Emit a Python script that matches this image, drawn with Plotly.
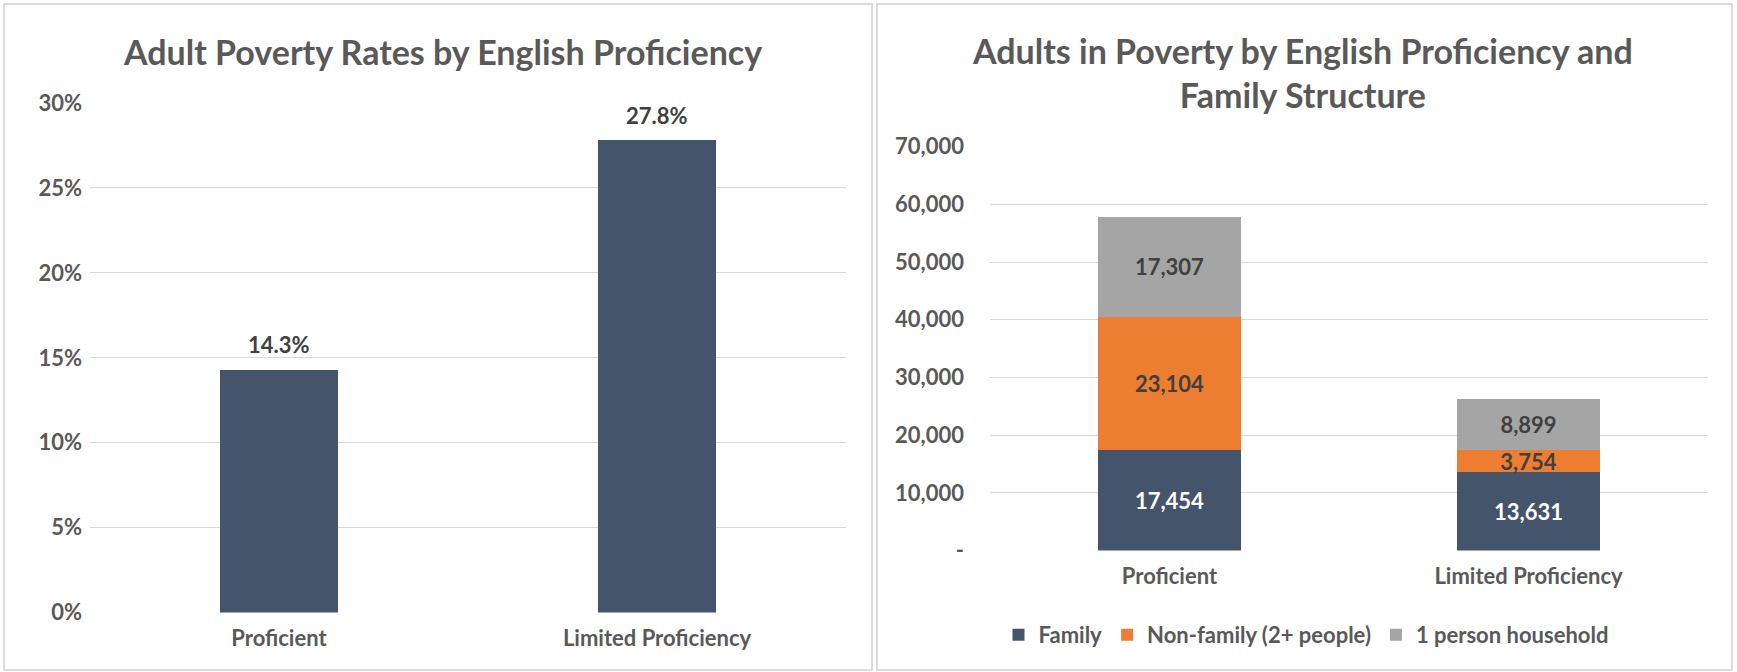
import plotly.graph_objects as go

# ---- data ----
categories = ["Proficient", "Limited Proficiency"]
poverty_rate = [0.143, 0.278]
family = [17454, 13631]
nonfamily = [23104, 3754]
one_person = [17307, 8899]
series_names = ["Family", "Non-family (2+ people)", "1 person household"]
left_ticks = [0, 0.05, 0.10, 0.15, 0.20, 0.25, 0.30]
right_ticks = [0, 10000, 20000, 30000, 40000, 50000, 60000, 70000]
right_ticktext = ["-", "10,000", "20,000", "30,000", "40,000", "50,000", "60,000", "70,000"]
left_title = "Adult Poverty Rates by English Proficiency"
right_title = "Adults in Poverty by English Proficiency and<br>Family Structure"

W, H = 1737, 672
FONT = "Lato"
GREY_TXT = "#595959"
DARK_TXT = "#404040"
NAVY = "#44546A"
ORANGE = "#ED7D31"
GREY = "#A5A5A5"
GRID = "#D9D9D9"
BORDER = "#DCDCDC"
FS = 22


def px(x):
    return x / W


def py(y):
    return 1 - y / H


fig = go.Figure()

# left chart
fig.add_trace(go.Bar(
    x=categories, y=poverty_rate, marker_color=NAVY, width=0.31,
    xaxis="x", yaxis="y", showlegend=False, hoverinfo="x+y",
))

# right chart (stacked)
for name, vals, col, tcol in zip(series_names, [family, nonfamily, one_person],
                                 [NAVY, ORANGE, GREY], ["white", DARK_TXT, DARK_TXT]):
    fig.add_trace(go.Bar(
        x=categories, y=vals, name=name, marker_color=col, width=0.40,
        xaxis="x2", yaxis="y2",
        texttemplate="%{y:,}", textposition="inside", insidetextanchor="middle",
        textfont=dict(family=FONT, size=FS, color=tcol, weight="bold"),
        textangle=0,
    ))

tickfont = dict(family=FONT, size=FS, color=GREY_TXT, weight="bold")

fig.update_layout(
    template="none",
    width=W, height=H, autosize=False,
    margin=dict(l=0, r=0, t=0, b=0, pad=0, autoexpand=False),
    paper_bgcolor="white", plot_bgcolor="white",
    barmode="stack",
    uniformtext=dict(minsize=FS, mode="show"),
    xaxis=dict(domain=[px(90), px(846)], anchor="y", showgrid=False, zeroline=False,
               showline=False, ticks="", tickfont=tickfont, ticklabelstandoff=10,
               automargin=False),
    yaxis=dict(domain=[py(612.6), py(103)], anchor="x", range=[0, 0.30],
               tickvals=left_ticks, tickformat=".0%", showgrid=True, gridcolor=GRID,
               gridwidth=1, zeroline=False, showline=False, ticks="",
               tickfont=tickfont, ticklabelstandoff=7, automargin=False),
    xaxis2=dict(domain=[px(990), px(1708)], anchor="y2", showgrid=False, zeroline=False,
                showline=False, ticks="", tickfont=tickfont, ticklabelstandoff=10,
                automargin=False),
    yaxis2=dict(domain=[py(550.5), py(146.7)], anchor="x2", range=[0, 70000],
                tickvals=right_ticks, ticktext=right_ticktext, showgrid=True,
                gridcolor=GRID, gridwidth=1, zeroline=False, showline=False, ticks="",
                tickfont=tickfont, ticklabelstandoff=25, automargin=False),
    legend=dict(orientation="h", x=px(1306), xanchor="center", y=py(635), yanchor="middle",
                font=dict(family=FONT, size=FS, color=GREY_TXT, weight="bold"),
                itemwidth=30, traceorder="normal", bgcolor="rgba(0,0,0,0)"),
    showlegend=True,
)

annotations = []
# left data labels
for c, v in zip(categories, poverty_rate):
    annotations.append(dict(x=c, y=v, xref="x", yref="y", text=f"{v*100:.1f}%",
                            showarrow=False, yanchor="middle", yshift=25,
                            font=dict(family=FONT, size=FS, color=DARK_TXT, weight="bold")))
# titles
annotations.append(dict(x=px(442), y=py(52), xref="paper", yref="paper", text=left_title,
                        showarrow=False, xanchor="center", yanchor="middle",
                        font=dict(family=FONT, size=34, color=GREY_TXT, weight="bold")))
annotations.append(dict(x=px(1302), y=py(73), xref="paper", yref="paper", text=right_title,
                        showarrow=False, xanchor="center", yanchor="middle",
                        font=dict(family=FONT, size=34, color=GREY_TXT, weight="bold")))
fig.update_layout(annotations=annotations)

# panel borders
shapes = [
    dict(type="rect", xref="paper", yref="paper", x0=px(4), x1=px(872), y0=py(670), y1=py(4),
         line=dict(color=BORDER, width=2), fillcolor="rgba(0,0,0,0)", layer="below"),
    dict(type="rect", xref="paper", yref="paper", x0=px(877), x1=px(1732), y0=py(670), y1=py(4),
         line=dict(color=BORDER, width=2), fillcolor="rgba(0,0,0,0)", layer="below"),
]
fig.update_layout(shapes=shapes)

fig.write_html("out.html", config={"displayModeBar": False},
               post_script="document.body.style.margin='0px';document.body.style.overflow='hidden';")
